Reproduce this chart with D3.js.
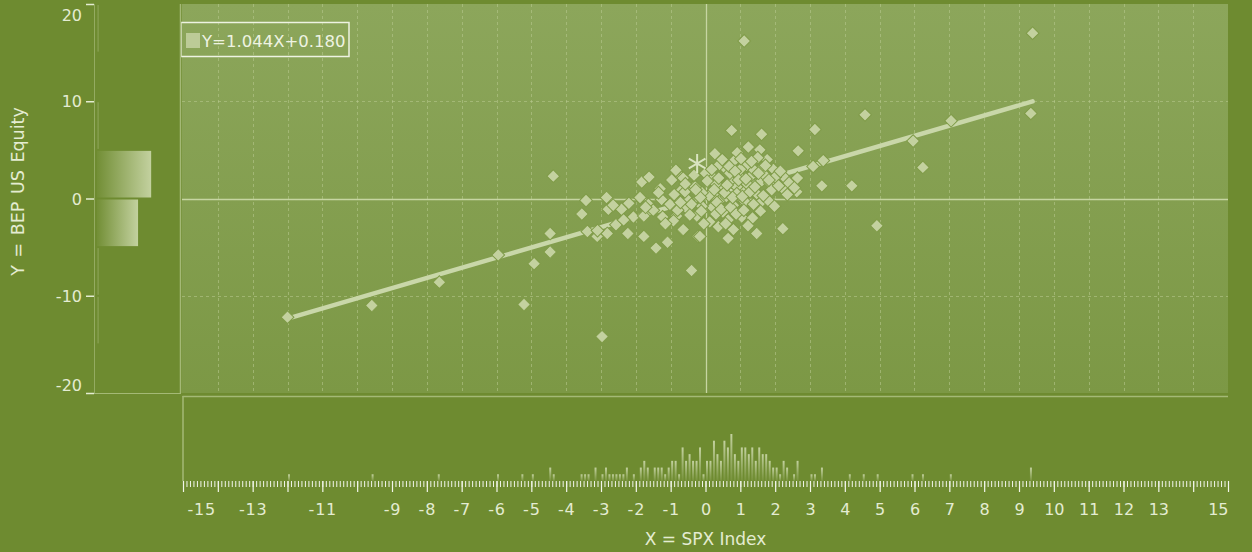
<!DOCTYPE html>
<html lang="en">
<head>
<meta charset="UTF-8">
<title>BEP vs SPX</title>
<script src="https://cdn.jsdelivr.net/npm/d3@7"></script>
<style>
    html, body { margin: 0; padding: 0; background: #6e8b30; }
    svg { display: block; font-family: "DejaVu Sans", sans-serif; }
</style>
</head>
<body>
<div id="chart"></div>
<script>
// weekly returns, X = SPX Index, Y = BEP US Equity
const scatterX = [-12.0, -9.58, -7.64, -5.95, -5.21, -4.92, -4.37, -4.46, -4.46, -2.97,
    -3.55, -3.43, -3.39, -3.11, -2.84, -2.79, -2.41, -2.82, -2.57, -2.23,
    -1.77, -1.42, -1.09, -0.65, -0.40, -1.88, -1.83, -1.62, -1.64, -2.07,
    -1.77, -1.26, -0.97, -0.68, -0.68, -0.83, -1.23, -1.02, -0.37, -0.25,
    -0.21, -0.54, -0.49, 0.75, 1.61, 3.14, 4.58, 2.66, 3.38, 3.09,
    3.34, 4.20, 4.92, 2.22, 2.64, 2.62, 2.28, 2.28, 1.77, 1.23,
    1.56, 0.91, 0.27, 0.56, 0.80, 1.18, 1.61, 1.95, 0.99, 1.33,
    1.61, 1.85, 0.22, -0.30, -0.64, -0.59, 0.42, 0.80, 1.13, 1.56,
    0.37, 0.65, 1.04, 1.35, 0.80, -0.64, -0.16, 0.65, 1.47, 1.13,
    1.47, 0.22, 0.51, 0.75, 1.11, 9.39, 9.34, 7.05, 5.96, 6.24,
    0.10, 0.30, 0.60, 0.90, 1.20, 1.40, 1.70, 0.40, 0.00, -0.10,
    0.20, 0.50, 0.90, 1.90, 2.00, -0.90, -1.30, -0.40, 0.70, 1.00,
    1.50, 2.10, 0.30, -0.10, 1.80, 2.40, -1.50, -2.20, -0.80, -3.10,
    0.05, 0.12, 0.18, 0.25, 0.33, 0.38, 0.45, 0.48, 0.55, 0.58,
    0.62, 0.68, 0.72, 0.78, 0.85, 0.88, 0.95, 1.02, 1.06, 1.10,
    1.16, 1.22, 1.28, 1.32, 1.38, 1.42, 1.52, 1.58, 1.66, 1.72,
    -0.05, -0.15, -0.33, -0.45, -0.58, -0.72, -0.85, -0.92, -0.12, -0.28,
    1.82, 1.98, 2.15, 2.35, 2.55, -1.15, -1.35, -1.72, -2.35, -2.65];
const scatterY = [-12.2, -11.0, -8.6, -5.8, -10.9, -6.7, 2.3, -3.6, -5.5, -14.2,
    -1.6, -0.2, -3.4, -3.9, 0.1, -1.1, -1.1, -3.6, -2.7, -3.6,
    -3.9, -5.1, -4.5, -3.3, -7.4, 0.1, 1.7, 2.2, -0.6, -1.9,
    -1.8, -0.1, 1.9, 2.2, 0.9, -1.8, -1.9, -0.6, 1.1, -1.8,
    -3.9, -1.0, -0.2, 7.0, 6.6, 7.1, 8.6, 4.9, 3.9, 3.3,
    1.3, 1.3, -2.8, -3.1, 2.1, 0.7, 2.1, 0.8, 4.0, 5.3,
    5.0, 4.7, 4.6, 3.1, 3.8, 3.4, 3.1, 3.0, 2.2, 2.4,
    1.8, 1.6, 2.2, 1.2, 2.1, 0.7, -0.2, -0.7, -0.3, -0.5,
    -2.9, -2.2, -1.9, -2.0, -3.2, -3.2, -3.9, -4.1, -3.6, 0.9,
    0.5, 0.4, 1.0, 1.7, 16.2, 17.0, 8.75, 8.0, 5.9, 3.2,
    0.3, 1.5, 0.2, 1.2, 1.5, 2.9, 2.4, 3.5, 2.6, 0.6,
    -0.9, -1.4, 0.5, 0.9, 2.2, 0.4, 1.0, -0.6, 2.6, 3.0,
    4.2, 1.3, -1.6, -0.8, -0.2, 1.6, -1.2, -0.5, -1.2, -3.3,
    1.8, -2.4, 3.0, 0.9, -0.4, 2.1, -1.1, 4.0, 0.6, -2.6,
    1.4, 3.3, -0.9, 0.1, 2.8, -1.6, 1.9, 4.1, 0.2, -1.2,
    2.0, -2.8, 0.7, 3.8, -0.6, 1.2, 2.6, -1.3, 0.3, 3.4,
    -2.6, 0.1, 2.4, -1.7, 1.5, -0.4, 2.9, -2.3, -1.3, 0.9,
    1.9, -0.8, 2.8, 0.4, 1.1, -2.6, 0.6, -0.9, -2.2, -0.7];
// latest observation (star marker)
const lastPoint = [-0.24, 3.6];
// regression
const slope = 1.044;
const intercept = 0.180;
const legendText = "Y=1.044X+0.180";
// side histogram of Y (bin low, bin high, relative frequency)
const yHistLo = [15, 5, 0, -5, -10, -15];
const yHistHi = [20, 10, 5, 0, -5, -10];
const yHistVal = [1, 1, 62, 47, 1, 1];
// axes
const yTicks = [-20, -10, 0, 10, 20];
const xLabels = [-15, -13, -11, -9, -8, -7, -6, -5, -4, -3, -2, -1, 0, 1, 2, 3, 4, 5, 6, 7, 8, 9, 10, 11, 12, 13, 15];
const xTitle = "X = SPX Index";
const yTitle = "Y = BEP US Equity";

const W = 1252, H = 552;
const pl = 182, pr = 1228, pt = 4, pb = 393;
const pale = "#c3d19f";
const txt = "#e4ecd2";
const minus = d => d < 0 ? "-" + Math.abs(d) : String(d);

const svg = d3.select("#chart").append("svg").attr("width", W).attr("height", H);
const defs = svg.append("defs");

const bgGrad = defs.append("linearGradient").attr("id", "plotbg")
    .attr("x1", 0).attr("y1", 0).attr("x2", 0).attr("y2", 1);
bgGrad.append("stop").attr("offset", "0%").attr("stop-color", "#8ca65b");
bgGrad.append("stop").attr("offset", "100%").attr("stop-color", "#7c9845");

const vGrad = defs.append("linearGradient").attr("id", "vbar")
    .attr("x1", 0).attr("y1", 0).attr("x2", 0).attr("y2", 1);
vGrad.append("stop").attr("offset", "0%").attr("stop-color", pale).attr("stop-opacity", 1);
vGrad.append("stop").attr("offset", "100%").attr("stop-color", pale).attr("stop-opacity", 0.1);

const hGrad = defs.append("linearGradient").attr("id", "hbar")
    .attr("x1", 0).attr("y1", 0).attr("x2", 1).attr("y2", 0);
hGrad.append("stop").attr("offset", "0%").attr("stop-color", pale).attr("stop-opacity", 0.05);
hGrad.append("stop").attr("offset", "100%").attr("stop-color", pale).attr("stop-opacity", 1);

svg.append("rect").attr("width", W).attr("height", H).attr("fill", "#6e8b30");

const x = d3.scaleLinear().domain([-15, 15]).range([pl + 1, pr]);
const y = d3.scaleLinear().domain([-20, 20]).range([pb, pt]);

// plot area
svg.append("rect").attr("x", pl).attr("y", pt).attr("width", pr - pl).attr("height", pb - pt)
    .attr("fill", "url(#plotbg)");

// grid
const grid = svg.append("g").attr("stroke", "#b9ca92").attr("stroke-opacity", 0.55)
    .attr("stroke-dasharray", "3,3").attr("stroke-width", 1);
grid.selectAll("line.v").data(d3.range(-14, 15).filter(d => d !== 0)).enter().append("line")
    .attr("x1", d => Math.round(x(d)) + 0.5).attr("x2", d => Math.round(x(d)) + 0.5)
    .attr("y1", pt).attr("y2", pb);
grid.selectAll("line.h").data([-10, 10]).enter().append("line")
    .attr("x1", pl).attr("x2", pr)
    .attr("y1", d => Math.round(y(d)) + 0.5).attr("y2", d => Math.round(y(d)) + 0.5);

// zero lines
svg.append("line").attr("x1", Math.round(x(0)) + 0.5).attr("x2", Math.round(x(0)) + 0.5)
    .attr("y1", pt).attr("y2", pb).attr("stroke", "#c6d5a2").attr("stroke-width", 1.3);
svg.append("line").attr("x1", pl).attr("x2", pr)
    .attr("y1", Math.round(y(0)) + 0.5).attr("y2", Math.round(y(0)) + 0.5)
    .attr("stroke", "#c6d5a2").attr("stroke-width", 1.3);

// regression line
const xMin = d3.min(scatterX), xMax = d3.max(scatterX);
svg.append("line")
    .attr("x1", x(xMin)).attr("y1", y(slope * xMin + intercept))
    .attr("x2", x(xMax)).attr("y2", y(slope * xMax + intercept))
    .attr("stroke", "#c9d7a9").attr("stroke-width", 4.5).attr("stroke-linecap", "round");

// points
const pts = scatterX.map((d, i) => [d, scatterY[i]]);
svg.append("g").selectAll("path").data(pts).enter().append("path")
    .attr("d", d3.symbol().type(d3.symbolSquare).size(82))
    .attr("transform", d => `translate(${x(d[0])},${y(d[1])}) rotate(45)`)
    .attr("fill", pale).attr("stroke", "#7f9b48").attr("stroke-width", 1);

svg.append("path")
    .attr("d", d3.symbol().type(d3.symbolAsterisk).size(260))
    .attr("transform", `translate(${x(lastPoint[0])},${y(lastPoint[1])})`)
    .attr("fill", "none").attr("stroke", "#d9e4c0").attr("stroke-width", 2);

// legend
svg.append("rect").attr("x", 181).attr("y", 22.5).attr("width", 168).attr("height", 34)
    .attr("fill", "none").attr("stroke", "#eef3e2").attr("stroke-width", 1.5);
svg.append("rect").attr("x", 186).attr("y", 33).attr("width", 14).attr("height", 15).attr("fill", "#bccb97");
svg.append("text").attr("x", 202).attr("y", 47).attr("font-size", 16.5).attr("fill", "#eef3e2").text(legendText);

// left histogram panel
const hx = d3.scaleLinear().domain([0, 95]).range([97, 180]);
svg.append("g").selectAll("rect").data(yHistVal).enter().append("rect")
    .attr("x", hx(0))
    .attr("y", (d, i) => y(yHistHi[i]) + 1)
    .attr("width", d => Math.max(1.5, hx(d) - hx(0)))
    .attr("height", (d, i) => y(yHistLo[i]) - y(yHistHi[i]) - 2)
    .attr("fill", "url(#hbar)").attr("opacity", d => d < 3 ? 0.45 : 1);
svg.append("line").attr("x1", 180.5).attr("x2", 180.5).attr("y1", pt).attr("y2", pb)
    .attr("stroke", "#a4b976").attr("stroke-width", 1.5);
svg.append("line").attr("x1", 94).attr("x2", 181).attr("y1", pb + 0.5).attr("y2", pb + 0.5)
    .attr("stroke", "#a4b976").attr("stroke-width", 1.2);

// y axis
const yAxis = svg.append("g").attr("transform", "translate(94,0)")
    .call(d3.axisLeft(y).tickValues(yTicks).tickSize(8).tickFormat(minus));
yAxis.select(".domain").attr("stroke", "#a4b976").attr("stroke-opacity", 0.7);
yAxis.selectAll(".tick line").attr("stroke", txt).attr("stroke-width", 1.5);
yAxis.selectAll(".tick text").attr("fill", txt).attr("font-size", 16)
    .attr("font-family", "DejaVu Sans, sans-serif").attr("x", -12)
    .attr("dy", d => d === 20 ? "1.05em" : d === -20 ? "-0.15em" : "0.35em");

svg.append("text").attr("transform", `translate(24,${y(0) - 7}) rotate(-90)`)
    .attr("text-anchor", "middle").attr("font-size", 17.5).attr("fill", txt)
    .attr("word-spacing", 2).text(yTitle);

// bottom histogram panel
const base = 481;
const bins = d3.bin().domain([-15, 15]).thresholds(d3.range(-15, 15, 0.1))(scatterX)
    .filter(b => b.length > 0);
const hy = d3.scaleLinear().domain([0, Math.max(7, d3.max(bins, b => b.length))]).range([0, 47]);
svg.append("g").selectAll("rect").data(bins).enter().append("rect")
    .attr("x", b => x(b.x0) + 0.5)
    .attr("width", b => Math.max(1, x(b.x1) - x(b.x0) - 1.5))
    .attr("y", b => base - hy(b.length))
    .attr("height", b => hy(b.length))
    .attr("fill", "url(#vbar)");
svg.append("line").attr("x1", pl + 0.5).attr("x2", pr).attr("y1", 396.5).attr("y2", 396.5)
    .attr("stroke", "#a4b976").attr("stroke-width", 1.5);
svg.append("line").attr("x1", pl + 1).attr("x2", pl + 1).attr("y1", 396).attr("y2", base)
    .attr("stroke", "#a4b976").attr("stroke-width", 1.5);

// x axis: minor, major ticks and labels
const minorAxis = svg.append("g").attr("transform", `translate(0,${base})`)
    .call(d3.axisBottom(x).tickValues(d3.range(-150, 151).map(d => d / 10)).tickSize(6).tickFormat(""));
minorAxis.select(".domain").remove();
minorAxis.selectAll(".tick line").attr("stroke", "#f2f5ea").attr("stroke-width", 1);

const majorAxis = svg.append("g").attr("transform", `translate(0,${base})`)
    .call(d3.axisBottom(x).tickValues(d3.range(-15, 16)).tickSize(11).tickFormat(""));
majorAxis.select(".domain").remove();
majorAxis.selectAll(".tick line").attr("stroke", "#f2f5ea").attr("stroke-width", 1.2);

const labelAxis = svg.append("g").attr("transform", `translate(0,${base})`)
    .call(d3.axisBottom(x).tickValues(xLabels).tickSize(0).tickPadding(23).tickFormat(minus));
labelAxis.select(".domain").remove();
labelAxis.selectAll(".tick text").attr("fill", txt).attr("font-size", 16)
    .attr("font-family", "DejaVu Sans, sans-serif")
    .attr("letter-spacing", d => d < 0 ? 0.8 : 0)
    .attr("text-anchor", d => d === -15 ? "start" : d === 15 ? "end" : "middle")
    .attr("x", d => d === -15 ? 4 : 0);

svg.append("text").attr("x", x(0)).attr("y", 545).attr("text-anchor", "middle")
    .attr("font-size", 17).attr("fill", txt).text(xTitle);
</script>
</body>
</html>
